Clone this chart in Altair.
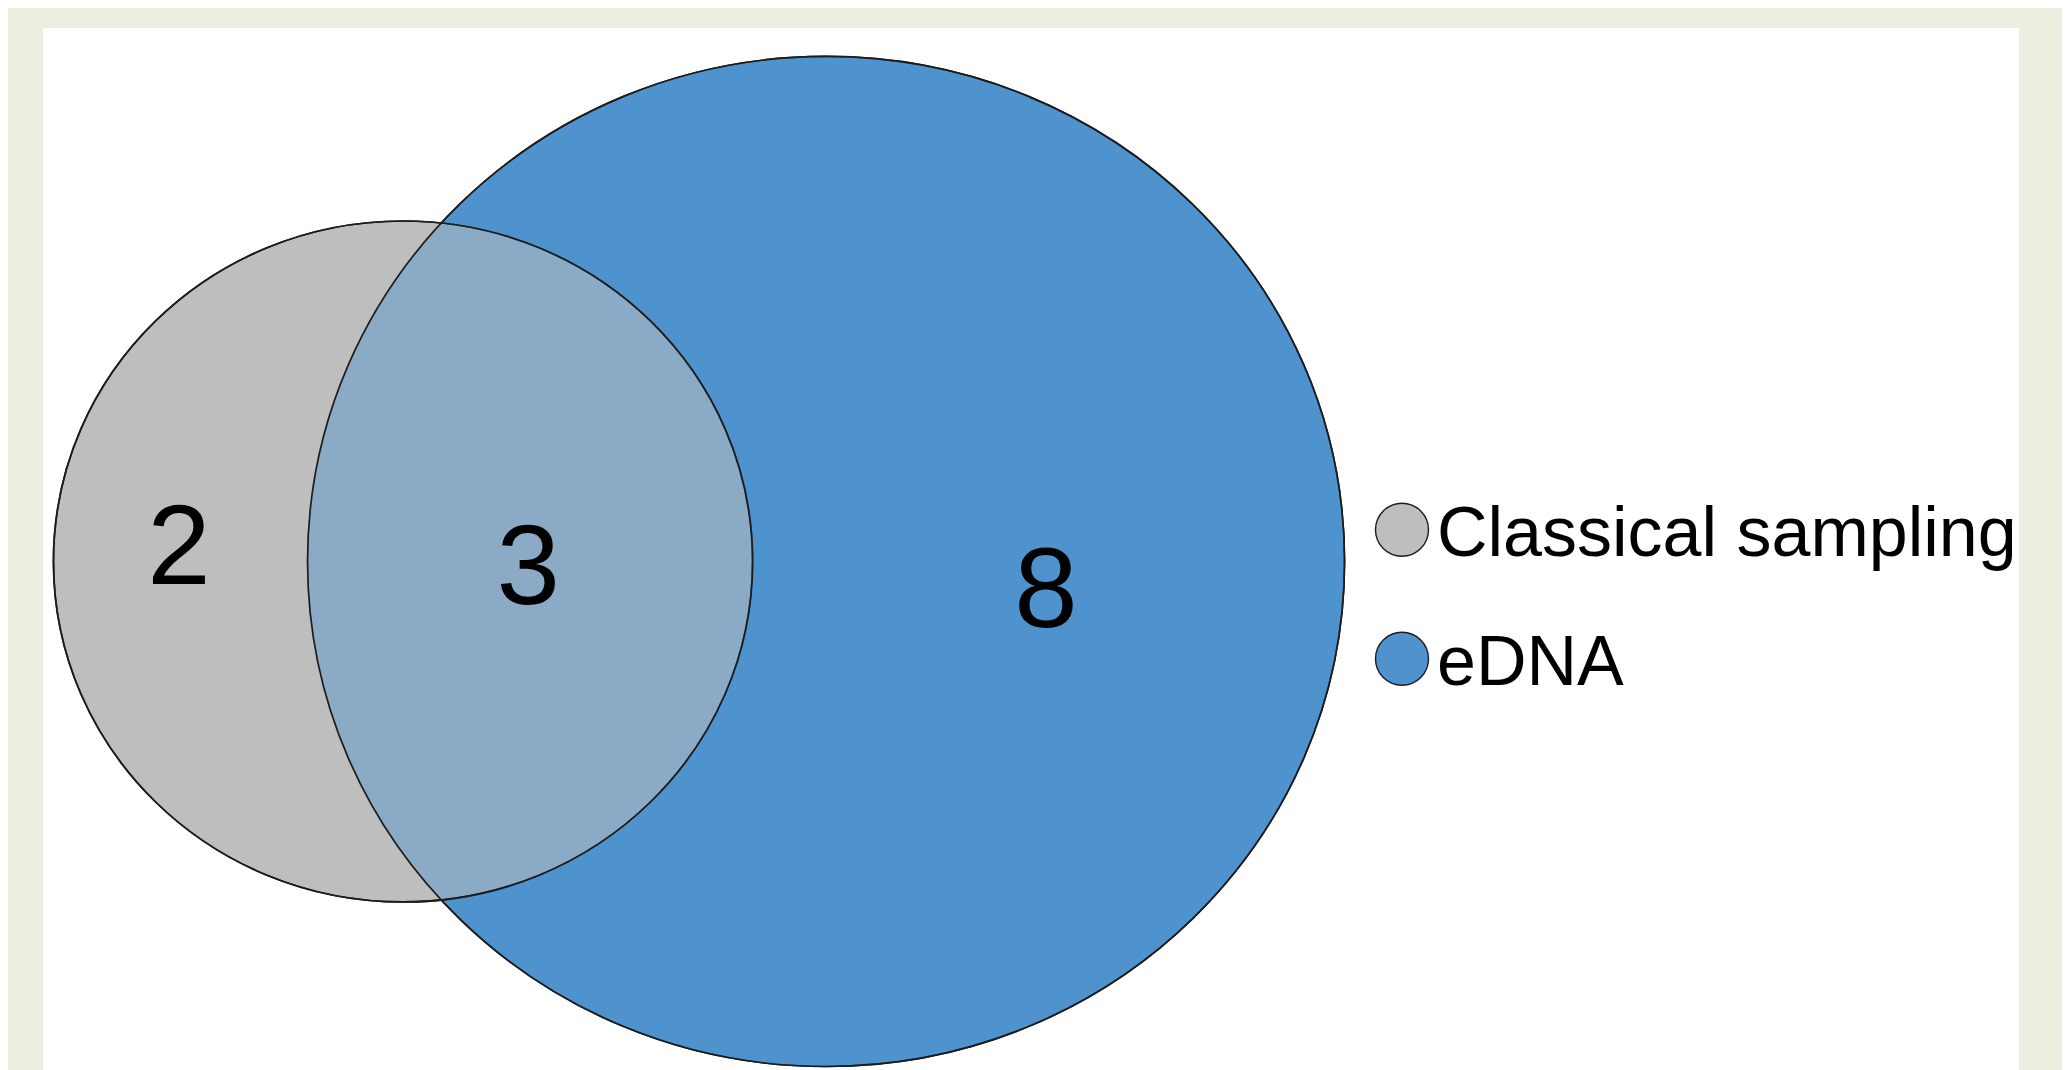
import altair as alt
import pandas as pd

# Sets (drawn larger first) and their totals (unique + shared)
set_names = ["eDNA", "Classical sampling"]
set_totals = [11, 5]
set_cx = [2.706, 0.0]      # Venn layout centres (layout units)
set_cy = [0.0, 0.0]

# Region counts and label anchors (layout units)
region_counts = ["2", "3", "8"]
region_x = [-1.433, 0.800, 4.113]
region_y = [-0.148, -0.279, -0.430]

legend_order = ["Classical sampling", "eDNA"]
set_colors = ["#BEBEBE", "#4E93CE"]

sets = pd.DataFrame({"set": set_names, "total": set_totals, "cx": set_cx, "cy": set_cy})
regions = pd.DataFrame({"label": region_counts, "x": region_x, "y": region_y})

ELLIPSE = "M-1,0A1,0.974,0,1,0,1,0A1,0.974,0,1,0,-1,0Z"
LEGEND_DOT = "M-1,-0.2A1,1,0,1,0,1,-0.2A1,1,0,1,0,-1,-0.2Z"
STROKE = "#1c1c1c"
SW = 1.7

xs = alt.Scale(domain=[-2.303, 10.337], nice=False, zero=False)
ys = alt.Scale(domain=[-3.339, 3.503], nice=False, zero=False)
ss = alt.Scale(type="linear", domain=[0, 11], range=[0, 1075369], zero=True)

base = alt.Chart(sets).encode(
    x=alt.X("cx:Q", scale=xs, axis=None),
    y=alt.Y("cy:Q", scale=ys, axis=None),
    size=alt.Size("total:Q", scale=ss, legend=None),
)

filled = base.mark_point(
    shape=ELLIPSE, filled=True, opacity=1, stroke=STROKE, strokeWidth=SW
).encode(
    color=alt.Color(
        "set:N",
        scale=alt.Scale(domain=legend_order, range=set_colors),
        legend=alt.Legend(
            title=None,
            orient="none",
            legendX=1324,
            legendY=472,
            padding=0,
            symbolType=LEGEND_DOT,
            symbolSize=2809,
            symbolStrokeColor=STROKE,
            symbolStrokeWidth=1.4,
            symbolOpacity=1,
            labelFontSize=70,
            labelFont="Liberation Sans",
            labelColor="black",
            labelOffset=0,
            labelLimit=1000,
            rowPadding=59,
        ),
    )
)

blue_over = base.transform_filter(alt.datum.set == "eDNA").mark_point(
    shape=ELLIPSE, filled=True, fill="#4E93CE", fillOpacity=0.46,
    stroke=STROKE, strokeOpacity=1, strokeWidth=SW
)

gray_outline = base.transform_filter(alt.datum.set == "Classical sampling").mark_point(
    shape=ELLIPSE, filled=False, stroke=STROKE, strokeWidth=SW, opacity=1, fillOpacity=0
)

labels = alt.Chart(regions).mark_text(
    font="Liberation Sans", fontSize=114, color="black", baseline="alphabetic", align="center"
).encode(
    x=alt.X("x:Q", scale=xs, axis=None),
    y=alt.Y("y:Q", scale=ys, axis=None),
    text="label:N",
)

chart = alt.layer(filled, blue_over, gray_outline, labels).properties(
    width=1976,
    height=1042,
    background="#ECEFE0",
    padding={"left": 35, "top": 20, "right": 43, "bottom": 0},
    autosize=alt.AutoSizeParams(type="none"),
).configure_view(fill="white", strokeWidth=0)

chart.save("out.html", embed_options={"renderer": "svg", "actions": False})
